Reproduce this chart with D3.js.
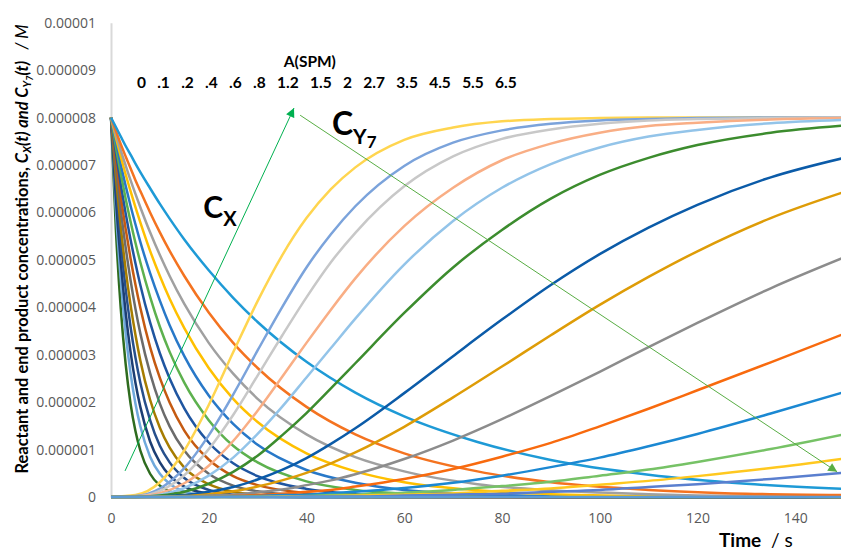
<!DOCTYPE html>
<html>
<head>
<meta charset="utf-8">
<script src="https://cdn.jsdelivr.net/npm/d3@7.9.0/dist/d3.min.js"></script>
<style>
  html, body { margin: 0; padding: 0; background: #fff; }
  svg { display: block; }
  .tick text { font-family: "Open Sans", sans-serif; font-size: 14px; fill: #595959; }
  .ttl { font-family: Lato, sans-serif; font-weight: bold; fill: #000; }
</style>
</head>
<body>
<svg id="chart" width="841" height="552"></svg>
<script>
// time samples (s)
const tX = [0, 1, 2, 3, 4, 5, 6, 8, 10, 12, 15, 20, 25, 30, 40, 50, 60, 75, 90, 110, 130, 150];
const tY = [0, 5, 10, 15, 20, 25, 30, 35, 40, 45, 50, 60, 70, 80, 90, 100, 110, 120, 135, 150];

// A(SPM) values, one Cx and one Cy7 curve per value
const aLabels = ["0", ".1", ".2", ".4", ".6", ".8", "1.2", "1.5", "2", "2.7", "3.5", "4.5", "5.5", "6.5"];

// Cx(t) in micromolar, rows follow aLabels
const cxValues = [
  [8, 5.64, 3.97, 2.80, 1.97, 1.39, .98, .49, .24, .12, .04, .01, 0, 0, 0, 0, 0, 0, 0, 0, 0, 0],
  [8, 6.05, 4.57, 3.45, 2.61, 1.97, 1.49, .85, .49, .28, .12, .03, .01, 0, 0, 0, 0, 0, 0, 0, 0, 0],
  [8, 6.29, 4.95, 3.89, 3.06, 2.41, 1.90, 1.17, .73, .45, .22, .07, .02, .01, 0, 0, 0, 0, 0, 0, 0, 0],
  [8, 6.55, 5.36, 4.39, 3.59, 2.94, 2.41, 1.62, 1.08, .73, .40, .15, .05, .02, 0, 0, 0, 0, 0, 0, 0, 0],
  [8, 6.75, 5.69, 4.80, 4.05, 3.42, 2.88, 2.05, 1.46, 1.04, .62, .27, .11, .05, .01, 0, 0, 0, 0, 0, 0, 0],
  [8, 6.96, 6.05, 5.26, 4.57, 3.97, 3.45, 2.61, 1.97, 1.49, .98, .49, .24, .12, .03, .01, 0, 0, 0, 0, 0, 0],
  [8, 7.12, 6.34, 5.65, 5.03, 4.48, 3.99, 3.16, 2.51, 1.99, 1.40, .79, .44, .25, .08, .02, .01, 0, 0, 0, 0, 0],
  [8, 7.26, 6.59, 5.98, 5.43, 4.93, 4.47, 3.68, 3.03, 2.50, 1.87, 1.15, .71, .44, .17, .06, .02, .01, 0, 0, 0, 0],
  [8, 7.38, 6.82, 6.29, 5.81, 5.36, 4.95, 4.22, 3.59, 3.06, 2.41, 1.62, 1.08, .73, .33, .15, .07, .02, .01, 0, 0, 0],
  [8, 7.49, 7.01, 6.56, 6.14, 5.75, 5.38, 4.72, 4.14, 3.62, 2.97, 2.14, 1.54, 1.10, .57, .30, .15, .06, .02, .01, 0, 0],
  [8, 7.58, 7.18, 6.80, 6.45, 6.11, 5.79, 5.19, 4.66, 4.18, 3.56, 2.72, 2.07, 1.58, .92, .54, .31, .14, .06, .02, .01, 0],
  [8, 7.65, 7.31, 6.99, 6.68, 6.39, 6.11, 5.58, 5.10, 4.66, 4.07, 3.25, 2.60, 2.07, 1.32, .84, .54, .27, .14, .06, .02, .01],
  [8, 7.72, 7.44, 7.18, 6.93, 6.68, 6.45, 6.00, 5.58, 5.19, 4.66, 3.89, 3.25, 2.72, 1.90, 1.32, .92, .54, .31, .15, .07, .04],
  [8, 7.80, 7.60, 7.40, 7.22, 7.03, 6.85, 6.51, 6.18, 5.87, 5.43, 4.78, 4.20, 3.69, 2.85, 2.20, 1.70, 1.16, .78, .47, .28, .17]
];

// CY7(t) in micromolar, rows follow aLabels
const cyValues = [
  [0, .04, .31, .98, 1.94, 3.05, 4.13, 5.09, 5.88, 6.49, 6.95, 7.53, 7.79, 7.92, 7.97, 7.99, 8, 8, 8, 8],
  [0, .02, .18, .61, 1.30, 2.16, 3.09, 4.00, 4.84, 5.54, 6.13, 6.98, 7.47, 7.73, 7.87, 7.94, 7.97, 7.99, 8, 8],
  [0, .01, .13, .46, 1.01, 1.73, 2.56, 3.40, 4.21, 4.95, 5.57, 6.55, 7.18, 7.55, 7.75, 7.87, 7.94, 7.97, 7.99, 8],
  [0, .01, .08, .29, .66, 1.18, 1.82, 2.53, 3.25, 3.95, 4.61, 5.71, 6.52, 7.10, 7.45, 7.68, 7.82, 7.89, 7.96, 7.99],
  [0, 0, .05, .19, .45, .83, 1.33, 1.90, 2.52, 3.14, 3.76, 4.90, 5.82, 6.52, 7.02, 7.37, 7.60, 7.74, 7.88, 7.95],
  [0, 0, .03, .11, .28, .53, .87, 1.30, 1.77, 2.29, 2.82, 3.88, 4.84, 5.63, 6.29, 6.79, 7.15, 7.42, 7.68, 7.83],
  [0, 0, .01, .04, .11, .21, .37, .57, .82, 1.12, 1.45, 2.19, 2.97, 3.74, 4.47, 5.12, 5.68, 6.16, 6.74, 7.15],
  [0, 0, .01, .02, .06, .12, .22, .35, .51, .71, .94, 1.48, 2.10, 2.75, 3.41, 4.05, 4.64, 5.18, 5.88, 6.43],
  [0, 0, 0, .01, .03, .05, .10, .16, .25, .35, .48, .80, 1.19, 1.64, 2.13, 2.64, 3.16, 3.67, 4.40, 5.05],
  [0, 0, 0, 0, .01, .02, .04, .07, .11, .15, .22, .38, .59, .85, 1.14, 1.49, 1.86, 2.25, 2.84, 3.44],
  [0, 0, 0, 0, 0, .01, .02, .04, .05, .08, .11, .19, .30, .45, .63, .83, 1.07, 1.33, 1.76, 2.21],
  [0, 0, 0, 0, 0, 0, .01, .01, .02, .04, .05, .09, .15, .23, .32, .45, .58, .74, 1.01, 1.32],
  [0, 0, 0, 0, 0, 0, 0, .01, .01, .02, .03, .05, .08, .13, .18, .26, .34, .44, .61, .81],
  [0, 0, 0, 0, 0, 0, 0, 0, .01, .01, .01, .03, .05, .07, .11, .15, .21, .27, .38, .51]
];

const cxColors = ["#2e6b1e", "#6fa9dc", "#1c3e73", "#264f8c", "#a67c00", "#6b6b6b", "#c55a11",
                  "#1f55a0", "#5db14e", "#2878c8", "#ffc000", "#a0a0a0", "#f47320", "#1e9ad6"];
const cyColors = ["#ffd54f", "#7ba3db", "#c8c8c8", "#f9ae85", "#93c4e9", "#3c8c2e", "#0b5ba8",
                  "#de9c07", "#8c8c8c", "#f86a0e", "#1b88d2", "#76c266", "#ffc81f", "#5a7fcf"];

const xTicks = [0, 20, 40, 60, 80, 100, 120, 140];
const yTicks = [0, 1, 2, 3, 4, 5, 6, 7, 8, 9, 10]; // micromolar, shown in M

const svg = d3.select("#chart");
svg.append("rect").attr("width", 841).attr("height", 552).attr("fill", "#fff");

const x = d3.scaleLinear().domain([0, 150]).range([111, 844]);
const y = d3.scaleLinear().domain([0, 10]).range([497, 22.7]);

const fmtM = d => d === 0 ? "0" : (d / 1e6).toFixed(6).replace(/0+$/, "");

const yAxis = svg.append("g")
    .attr("transform", `translate(${x(0)},0)`)
    .call(d3.axisLeft(y).tickValues(yTicks).tickFormat(fmtM).tickSize(0).tickSizeOuter(0).tickPadding(15));
yAxis.select(".domain").attr("stroke", "#d9d9d9").attr("stroke-width", 2);

const xAxis = svg.append("g")
    .attr("transform", `translate(0,${y(0)})`)
    .call(d3.axisBottom(x).tickValues(xTicks).tickSize(0).tickSizeOuter(0).tickPadding(16));
xAxis.select(".domain").remove();

const line = d3.line().curve(d3.curveMonotoneX);

const curves = svg.append("g").attr("fill", "none").attr("stroke-width", 2.5);

cxValues.forEach((row, i) => {
    curves.append("path")
        .attr("d", line(row.map((v, j) => [x(tX[j]), y(v)])))
        .attr("stroke", cxColors[i]);
});
cyValues.forEach((row, i) => {
    curves.append("path")
        .attr("d", line(row.map((v, j) => [x(tY[j]), y(v)])))
        .attr("stroke", cyColors[i]);
});

// baseline drawn over the curves, as in the source
svg.append("line")
    .attr("x1", x(0)).attr("x2", x(150)).attr("y1", y(0)).attr("y2", y(0))
    .attr("stroke", "#5b9bd5").attr("stroke-width", 2.5);

// axis titles
const yTitle = svg.append("text")
    .attr("class", "ttl")
    .attr("transform", "translate(28,249) rotate(-90)")
    .attr("text-anchor", "middle")
    .attr("font-size", 16.5);
yTitle.append("tspan").text("Reactant and end product concentrations, ");
yTitle.append("tspan").attr("font-style", "italic").text("C");
yTitle.append("tspan").attr("font-style", "italic").attr("font-size", 11).attr("dy", 3).text("X");
yTitle.append("tspan").attr("font-style", "italic").attr("dy", -3).text("(t) and C");
yTitle.append("tspan").attr("font-style", "italic").attr("font-size", 11).attr("dy", 3).text("Y");
yTitle.append("tspan").attr("font-style", "italic").attr("font-size", 9).attr("dy", 2).text("7");
yTitle.append("tspan").attr("font-style", "italic").attr("dy", -5).text("(t)");
yTitle.append("tspan").attr("font-style", "italic").attr("font-weight", "normal").style("white-space", "pre").text("   / M");

const xTitle = svg.append("text")
    .attr("class", "ttl")
    .attr("x", 719).attr("y", 547)
    .attr("font-size", 19);
xTitle.append("tspan").text("Time");
xTitle.append("tspan").attr("font-weight", "normal").style("white-space", "pre").text("  / s");

// A(SPM) legend text
svg.append("text")
    .attr("class", "ttl")
    .attr("x", x(40.7)).attr("y", y(9.07))
    .attr("text-anchor", "middle").attr("font-size", 15.5)
    .text("A(SPM)");
svg.append("text")
    .attr("class", "ttl")
    .attr("x", x(5.3)).attr("y", y(8.62))
    .attr("font-size", 15.5)
    .style("white-space", "pre")
    .text(aLabels.join("   "));

// curve family labels
const cxLab = svg.append("text").attr("class", "ttl")
    .attr("x", x(18.9)).attr("y", y(5.88)).attr("font-size", 30);
cxLab.append("tspan").text("C");
cxLab.append("tspan").attr("font-size", 20).attr("dy", 8).text("X");

const cyLab = svg.append("text").attr("class", "ttl")
    .attr("x", x(45.2)).attr("y", y(7.63)).attr("font-size", 32);
cyLab.append("tspan").text("C");
cyLab.append("tspan").attr("font-size", 21).attr("dy", 9).text("Y");
cyLab.append("tspan").attr("font-size", 17).attr("dy", 4).text("7");

// trend arrows
const defs = svg.append("defs");
[["arrA", "#00b050"], ["arrB", "#58ad44"]].forEach(([id, c]) => {
    defs.append("marker")
        .attr("id", id).attr("viewBox", "0 0 10 10")
        .attr("refX", 10).attr("refY", 5)
        .attr("markerWidth", 10).attr("markerHeight", 9)
        .attr("markerUnits", "userSpaceOnUse")
        .attr("orient", "auto")
        .append("path").attr("d", "M0,0L10,5L0,10Z").attr("fill", c);
});
svg.append("line")
    .attr("x1", x(2.87)).attr("y1", y(0.55)).attr("x2", x(37.45)).attr("y2", y(8.2))
    .attr("stroke", "#00b050").attr("stroke-width", 1).attr("marker-end", "url(#arrA)");
svg.append("line")
    .attr("x1", x(38.7)).attr("y1", y(8.05)).attr("x2", x(148.6)).attr("y2", y(0.53))
    .attr("stroke", "#58ad44").attr("stroke-width", 1).attr("marker-end", "url(#arrB)");
</script>
</body>
</html>
